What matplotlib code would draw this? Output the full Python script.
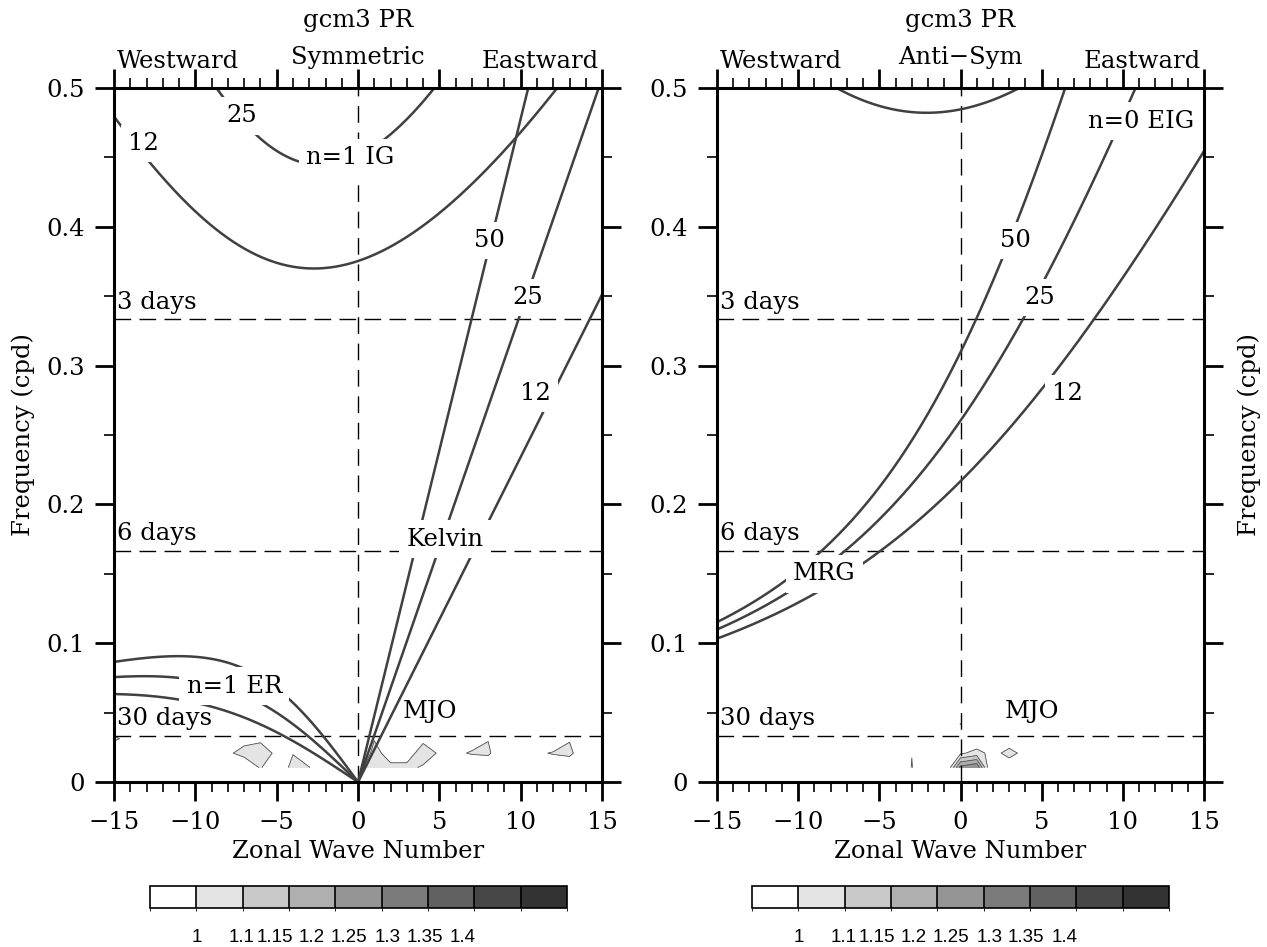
import numpy as np
import matplotlib
matplotlib.use("Agg")
import matplotlib.pyplot as plt
from matplotlib.colors import ListedColormap, BoundaryNorm

# ---------------- data ----------------
equiv_depths = [12, 25, 50]                     # m, dispersion curves
wave_numbers = np.arange(-15, 16)               # contour grid columns
freq_rows = [1/96, 2/96, 3/96, 4/96, 5/96]      # contour grid rows (cpd)
period_days = [3, 6, 30]

# signal/background ratio (rows = freq_rows, columns k = -15..15)
sym_ratio = [
    [1.0, 1.0, 1.0, 1.0, 1.0, 1.0, 1.0, 1.0, 1.0, 1.11, 1.0, 1.14, 1.105, 1.0, 1.0, 1.08,
     1.14, 1.12, 1.12, 1.09, 1.0, 1.0, 1.0, 1.0, 1.0, 1.0, 1.0, 1.0, 1.0, 1.0, 1.0],
    [1.05, 1.0, 1.0, 1.0, 1.0, 1.0, 1.0, 1.08, 1.14, 1.15, 1.08, 1.095, 1.0, 1.0, 1.0, 1.0,
     1.13, 1.06, 1.06, 1.14, 1.09, 1.08, 1.11, 1.12, 1.0, 1.0, 1.08, 1.11, 1.13, 1.0, 1.0],
    [1.11, 1.08, 1.0, 1.0, 1.0, 1.0, 1.0, 1.0, 1.06, 1.08, 1.0, 1.0, 1.0, 1.0, 1.0, 1.0,
     1.095, 1.0, 1.0, 1.08, 1.0, 1.0, 1.05, 1.095, 1.0, 1.0, 1.0, 1.0, 1.09, 1.0, 1.0],
    [1.05, 1.0, 1.0, 1.0, 1.0, 1.0, 1.0, 1.0, 1.0, 1.0, 1.0, 1.0, 1.0, 1.0, 1.0, 1.0,
     1.0, 1.0, 1.0, 1.0, 1.0, 1.0, 1.0, 1.0, 1.0, 1.0, 1.0, 1.0, 1.0, 1.0, 1.0],
    [1.0] * 31,
]
asym_ratio = [
    [1.0, 1.0, 1.0, 1.0, 1.0, 1.0, 1.0, 1.0, 1.0, 1.0, 1.0, 1.0, 1.104, 1.0, 1.0, 1.27,
     1.3, 1.0, 1.06, 1.0, 1.0, 1.0, 1.0, 1.0, 1.0, 1.0, 1.0, 1.0, 1.0, 1.0, 1.0],
    [1.0, 1.0, 1.0, 1.0, 1.0, 1.0, 1.0, 1.0, 1.0, 1.0, 1.0, 1.0, 1.098, 1.0, 1.0, 1.09,
     1.12, 1.08, 1.12, 1.08, 1.0, 1.0, 1.0, 1.0, 1.0, 1.0, 1.0, 1.0, 1.0, 1.0, 1.0],
    [1.0, 1.0, 1.0, 1.0, 1.0, 1.0, 1.0, 1.0, 1.0, 1.0, 1.0, 1.0, 1.0, 1.0, 1.0, 1.0,
     1.05, 1.0, 1.06, 1.0, 1.0, 1.0, 1.0, 1.0, 1.0, 1.0, 1.0, 1.0, 1.0, 1.0, 1.0],
    [1.0, 1.0, 1.0, 1.0, 1.0, 1.0, 1.0, 1.0, 1.0, 1.0, 1.0, 1.0, 1.0, 1.0, 1.0, 1.103,
     1.0, 1.0, 1.0, 1.0, 1.0, 1.0, 1.0, 1.0, 1.0, 1.0, 1.0, 1.0, 1.0, 1.0, 1.0],
    [1.0] * 31,
]

cbar_levels = [1, 1.1, 1.15, 1.2, 1.25, 1.3, 1.35, 1.4]
cbar_labels = ["1", "1.1", "1.15", "1.2", "1.25", "1.3", "1.35", "1.4"]
cbar_colors = ["#ffffff", "#e4e4e4", "#c9c9c9", "#afafaf", "#959595",
               "#7b7b7b", "#616161", "#474747", "#333333"]

# ---------------- dispersion relations ----------------
R_earth = 6.371e6
g = 9.81
Omega = 7.292e-5
beta = 2 * Omega / R_earth
s = np.linspace(-15, 15, 1201)


def cpd(w):
    return w * 86400.0 / (2 * np.pi)


def cubic_roots(kstar, n):
    # roots of w^3 - (k^2 + 2n + 1) w - k = 0 : [largest, middle, smallest]
    p = -(kstar ** 2 + 2 * n + 1)
    q = -kstar
    m = 2 * np.sqrt(-p / 3)
    th = np.arccos(np.clip(3 * q / (p * m), -1, 1)) / 3
    return [m * np.cos(th - 2 * np.pi * j / 3) for j in range(3)]


def curves(h):
    c = np.sqrt(g * h)
    L = np.sqrt(c / beta)
    W = np.sqrt(beta * c)
    ks = (s / R_earth) * L
    out = {}
    out["kelvin"] = np.where(s >= 0, cpd(ks * W), np.nan)
    r1 = cubic_roots(ks, 1)
    out["ig1"] = cpd(r1[0] * W)
    out["er1"] = np.where(s <= 0, cpd(r1[1] * W), np.nan)
    out["mrg"] = cpd((ks + np.sqrt(ks ** 2 + 4)) / 2 * W)
    r2 = cubic_roots(ks, 2)
    out["ig2"] = cpd(r2[0] * W)
    return out


disp = {h: curves(h) for h in equiv_depths}

# ---------------- figure ----------------
plt.rcParams["font.family"] = ["DejaVu Serif"]
fig = plt.figure(figsize=(12.67, 9.47), dpi=100)
axL = fig.add_axes([0.0900, 0.1742, 0.3852, 0.7329])
axR = fig.add_axes([0.5659, 0.1742, 0.3844, 0.7329])

curve_col = "#404040"
lw_curve = 1.8
fs = 17.5
box = dict(boxstyle="square,pad=0.3", fc="white", ec="none")
fill_levels = [1.1, 1.15, 1.2, 1.25, 1.3, 1.35, 1.4, 2.0]


def base_axes(ax, mode, ratio):
    ax.set_xlim(-15, 15)
    ax.set_ylim(0, 0.5)
    K, F = np.meshgrid(wave_numbers, freq_rows)
    ax.contourf(K, F, np.array(ratio), levels=fill_levels,
                colors=cbar_colors[1:], zorder=1)
    ax.contour(K, F, np.array(ratio), levels=fill_levels[:-1],
               colors="#505050", linewidths=0.6, zorder=1.5)
    # reference dashed lines
    for d in period_days:
        ax.axhline(1.0 / d, color="black", lw=1.0, dashes=(12, 6), zorder=2)
        ax.text(-14.8, 1.0 / d + 0.004, f"{d} days", fontsize=fs,
                ha="left", va="bottom", zorder=3)
    ax.axvline(0, color="black", lw=1.0, dashes=(12, 7), zorder=2)
    ax.text(4.4, 0.0505, "MJO", fontsize=fs, ha="center", va="center", zorder=3)

    ax.set_xticks([-15, -10, -5, 0, 5, 10, 15])
    ax.set_xticks(np.arange(-15, 16, 1), minor=True)
    ax.set_yticks([0, 0.1, 0.2, 0.3, 0.4, 0.5])
    ax.set_yticklabels(["0", "0.1", "0.2", "0.3", "0.4", "0.5"])
    ax.set_yticks(np.arange(0, 0.51, 0.05), minor=True)
    ax.tick_params(which="both", direction="out", top=True, right=True,
                   labeltop=False, labelright=False, labelsize=fs)
    ax.tick_params(which="major", length=14, width=2.0, pad=7)
    ax.tick_params(which="minor", length=7, width=1.2)
    for sp in ax.spines.values():
        sp.set_linewidth(2.2)
        sp.set_zorder(10)
    ax.set_xlabel("Zonal Wave Number", fontsize=fs, labelpad=4)
    ax.text(-14.8, 1.022, "Westward", transform=ax.get_xaxis_transform(),
            fontsize=fs, ha="left", va="bottom")
    ax.text(14.8, 1.022, "Eastward", transform=ax.get_xaxis_transform(),
            fontsize=fs, ha="right", va="bottom")
    ax.text(0, 1.028, mode, transform=ax.get_xaxis_transform(),
            fontsize=fs, ha="center", va="bottom")
    ax.text(0, 1.08, "gcm3 PR", transform=ax.get_xaxis_transform(),
            fontsize=fs, ha="center", va="bottom")


# ---- left: symmetric
base_axes(axL, "Symmetric", sym_ratio)
for h in equiv_depths:
    for key in ["kelvin", "ig1", "er1"]:
        axL.plot(s, disp[h][key], color=curve_col, lw=lw_curve, zorder=4)
axL.set_ylabel("Frequency (cpd)", fontsize=fs, labelpad=8)

sym_labels = [("50", 8.1, 0.390), ("25", 10.45, 0.349), ("12", 10.9, 0.280),
              ("12", -13.2, 0.460), ("25", -7.13, 0.480), ("n=1 IG", -0.5, 0.450),
              ("Kelvin", 5.35, 0.175), ("n=1 ER", -7.6, 0.069)]
for t, x, y in sym_labels:
    axL.text(x, y, t, fontsize=fs, ha="center", va="center", bbox=box,
             zorder=6, clip_on=True)

# ---- right: anti-symmetric
base_axes(axR, "Anti\u2212Sym", asym_ratio)
for h in equiv_depths:
    axR.plot(s, disp[h]["mrg"], color=curve_col, lw=lw_curve, zorder=4)
    axR.plot(s, disp[h]["ig2"], color=curve_col, lw=lw_curve, zorder=4)
axR.yaxis.set_label_position("right")
axR.set_ylabel("Frequency (cpd)", fontsize=fs, labelpad=10)

asym_labels = [("50", 3.4, 0.390), ("25", 4.9, 0.349), ("12", 6.6, 0.280),
               ("MRG", -8.4, 0.150), ("n=0 EIG", 11.15, 0.476)]
for t, x, y in asym_labels:
    axR.text(x, y, t, fontsize=fs, ha="center", va="center", bbox=box,
             zorder=6, clip_on=True)

# ---------------- colour bars ----------------
label_pos = [0.112, 0.219, 0.300, 0.387, 0.478, 0.570, 0.658, 0.750]
for left in [0.1184, 0.5935]:
    cax = fig.add_axes([left, 0.0412, 0.3291, 0.0232])
    bounds = [0.9] + cbar_levels + [1.5]
    norm = BoundaryNorm(bounds, len(cbar_colors))
    sm = plt.cm.ScalarMappable(norm=norm, cmap=ListedColormap(cbar_colors))
    cb = fig.colorbar(sm, cax=cax, orientation="horizontal", spacing="uniform",
                      drawedges=True)
    cb.outline.set_linewidth(1.2)
    cb.dividers.set_linewidth(1.2)
    cb.set_ticks([])
    for lab, xp in zip(cbar_labels, label_pos):
        cax.text(xp, -0.95, lab, transform=cax.transAxes, fontsize=13.5,
                 family="Liberation Sans", ha="center", va="top")

fig.savefig("out.png", dpi=100)
